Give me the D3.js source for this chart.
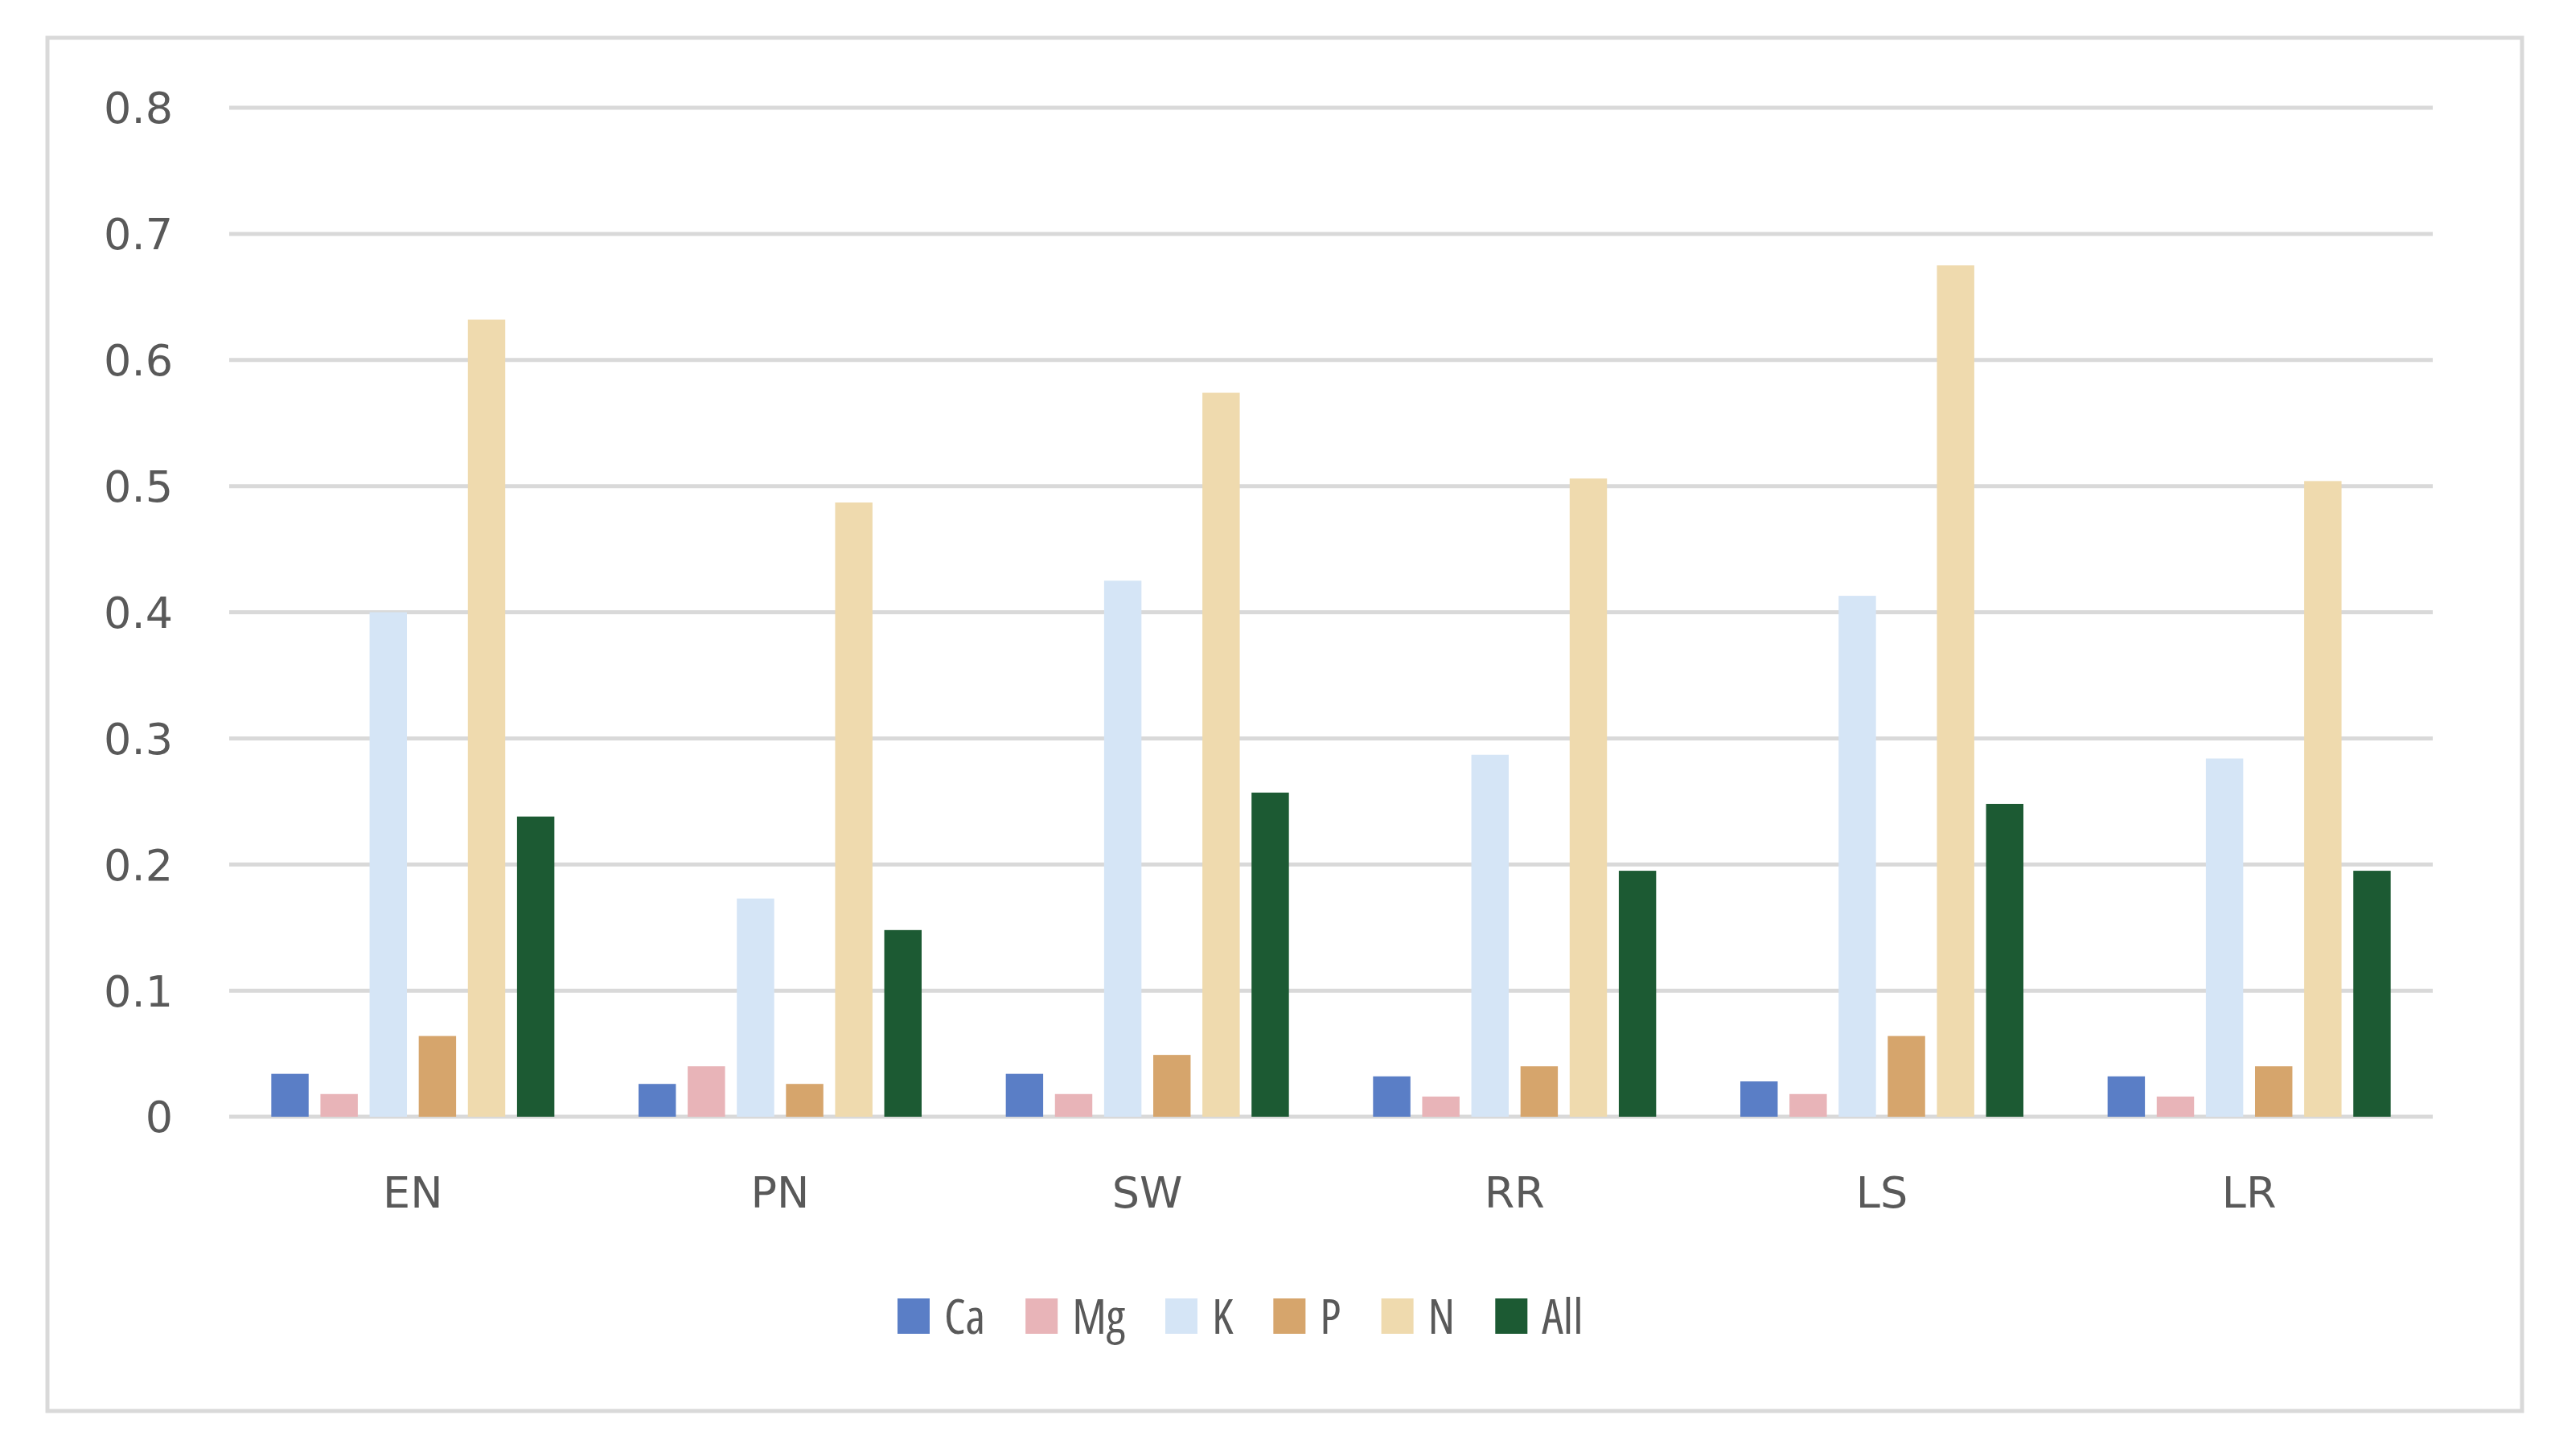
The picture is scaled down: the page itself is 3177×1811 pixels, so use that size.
<!DOCTYPE html>
<html><head><meta charset="utf-8">
<script src="https://cdn.jsdelivr.net/npm/d3@7"></script>
<style>body{margin:0;background:#fff}</style>
</head><body><div id="chart"></div>
<script>
// Data
const sites = ['EN', 'PN', 'SW', 'RR', 'LS', 'LR'];
const nutrients = ['Ca', 'Mg', 'K', 'P', 'N', 'All'];
const colors = ['#5a7ec6', '#e8b4b8', '#d5e5f6', '#d6a56c', '#efdaae', '#1c5a33'];
const Ca  = [0.034, 0.026, 0.034, 0.032, 0.028, 0.032];
const Mg  = [0.018, 0.040, 0.018, 0.016, 0.018, 0.016];
const K   = [0.400, 0.173, 0.425, 0.287, 0.413, 0.284];
const P   = [0.064, 0.026, 0.049, 0.040, 0.064, 0.040];
const N   = [0.632, 0.487, 0.574, 0.506, 0.675, 0.504];
const All = [0.238, 0.148, 0.257, 0.195, 0.248, 0.195];
const yTicks = [0, 0.1, 0.2, 0.3, 0.4, 0.5, 0.6, 0.7, 0.8];

const seriesValues = [Ca, Mg, K, P, N, All];
const W = 3177, H = 1811;
const margin = { top: 134, right: 152, bottom: 422, left: 285 };
const width = W - margin.left - margin.right;
const height = H - margin.top - margin.bottom;

const svg = d3.select('#chart').append('svg')
    .attr('width', W).attr('height', H);

// Outer frame
svg.append('rect')
    .attr('x', 59).attr('y', 47).attr('width', 3077).attr('height', 1708)
    .attr('fill', '#fff').attr('stroke', '#d9d9d9').attr('stroke-width', 5);

const g = svg.append('g').attr('transform', `translate(${margin.left},${margin.top})`);

const x0 = d3.scaleBand().domain(sites).range([0, width]);
const x1 = d3.scaleBand().domain(nutrients)
    .range([x0.bandwidth() / 2 - 176, x0.bandwidth() / 2 + 176]).paddingInner(0.24);
const y = d3.scaleLinear().domain([0, 0.8]).range([height, 0]);

// Grid lines
g.append('g').selectAll('line').data(yTicks).join('line')
    .attr('x1', 0).attr('x2', width)
    .attr('y1', d => y(d)).attr('y2', d => y(d))
    .attr('stroke', '#d9d9d9').attr('stroke-width', 5);

// Y axis labels
g.append('g').selectAll('text').data(yTicks).join('text')
    .attr('x', -70).attr('y', d => y(d)).attr('dy', '0.36em')
    .attr('text-anchor', 'end')
    .style('font-family', '"DejaVu Sans", sans-serif')
    .style('font-size', '54px').style('fill', '#595959')
    .text(d => d === 0 ? '0' : d.toFixed(1));

// Bars
const groups = g.selectAll('.site').data(sites).join('g')
    .attr('class', 'site')
    .attr('transform', d => `translate(${x0(d)},0)`);

groups.selectAll('rect')
    .data((s, i) => nutrients.map((n, j) => ({ n, j, v: seriesValues[j][i] })))
    .join('rect')
    .attr('x', d => x1(d.n))
    .attr('width', x1.bandwidth())
    .attr('y', d => y(d.v))
    .attr('height', d => y(0) - y(d.v))
    .attr('fill', d => colors[d.j]);

// Category labels
g.append('g').selectAll('text').data(sites).join('text')
    .attr('x', d => x0(d) + x0.bandwidth() / 2)
    .attr('y', height + 94)
    .attr('dy', '0.36em')
    .attr('text-anchor', 'middle')
    .style('font-family', '"DejaVu Sans", sans-serif')
    .style('font-size', '54px').style('fill', '#595959')
    .text(d => d);

// Legend
const legend = svg.append('g').attr('transform', 'translate(0,1637)');
let lx = 1116;
nutrients.forEach((n, j) => {
    legend.append('rect')
        .attr('x', lx).attr('y', -22).attr('width', 40).attr('height', 44)
        .attr('fill', colors[j]);
    const t = legend.append('text')
        .attr('x', lx + 58).attr('y', 0).attr('dy', '0.36em')
        .style('font-family', '"Open Sans", sans-serif')
        .style('font-stretch', 'condensed')
        .style('font-size', '60px').style('fill', '#595959')
        .text(n);
    lx += 58 + t.node().getComputedTextLength() + 50;
});
</script></body></html>
